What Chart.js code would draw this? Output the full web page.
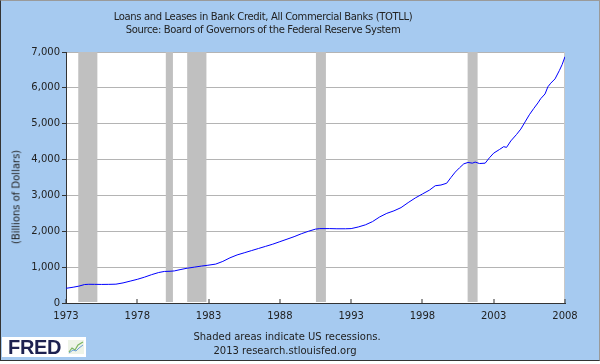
<!DOCTYPE html>
<html>
<head>
<meta charset="utf-8">
<script src="https://cdn.jsdelivr.net/npm/chart.js@4/dist/chart.umd.min.js"></script>
<style>
  html, body { margin: 0; padding: 0; background: #fff; }
  #wrap { position: relative; width: 600px; height: 364px; overflow: hidden; }
  #frame { position: absolute; left: 0; top: 0; width: 598px; height: 359px; background: #A6CAF0;
           border: 1px solid; border-color: #9a9a9a #9a9a9a #333 #333; }
  canvas { position: absolute; left: 0; top: 0; }
  .txt { position: absolute; font-family: "DejaVu Sans", Verdana, sans-serif; font-size: 10px; color: #222;
         white-space: nowrap; transform: translate(-50%, -50%); }
  .titolo { letter-spacing: -0.35px; }
  #ytitle { transform: translate(-50%, -50%) rotate(-90deg); }
  #logo { position: absolute; left: 2px; top: 337px; width: 84px; height: 20px; background: #fff; }
  #logo span { position: absolute; left: 6px; top: 0px; font-family: "Liberation Sans", Arial, sans-serif;
               font-weight: bold; font-size: 20px; line-height: 20px; color: #1d2150; letter-spacing: -0.3px; }
  #logo svg { position: absolute; left: 66px; top: 3px; }
</style>
</head>
<body>
<div id="wrap">
  <div id="frame"></div>
  <canvas id="grafico" width="600" height="364"></canvas>
  <div class="txt titolo" style="left:263px; top:16px;">Loans and Leases in Bank Credit, All Commercial Banks (TOTLL)</div>
  <div class="txt titolo" style="left:263px; top:29px;">Source: Board of Governors of the Federal Reserve System</div>
  <div class="txt" id="ytitle" style="left:16px; top:197px;">(Billions of Dollars)</div>
  <div class="txt" style="left:287px; top:336px;">Shaded areas indicate US recessions.</div>
  <div class="txt" style="left:285px; top:350px;">2013 research.stlouisfed.org</div>
  <div id="logo"><span>FRED</span>
    <svg width="16" height="14" viewBox="0 0 16 14">
      <rect x="0" y="0" width="16" height="14" fill="#eef4e8"/>
      <polyline points="1,12 4,8 7,10 10,5 15,2" fill="none" stroke="#7bb661" stroke-width="1.2"/>
      <polyline points="1,13 5,10 8,11 11,8 15,5" fill="none" stroke="#6a9fd8" stroke-width="1"/>
    </svg>
  </div>
</div>
<script>
// Dati (anni decimali, miliardi di dollari)
const anni = [1973.0, 1973.5, 1973.9, 1974.3, 1974.6, 1975.0, 1975.5, 1976.0, 1976.5, 1977.0,
  1977.5, 1978.0, 1978.5, 1979.0, 1979.5, 1979.9, 1980.3, 1980.6, 1981.0, 1981.5,
  1982.0, 1982.5, 1982.9, 1983.5, 1984.0, 1984.5, 1985.0, 1985.5, 1986.0, 1986.5,
  1987.0, 1987.5, 1988.0, 1988.5, 1989.0, 1989.5, 1990.0, 1990.5, 1990.8, 1991.5,
  1992.0, 1992.6, 1993.0, 1993.5, 1994.0, 1994.5, 1995.0, 1995.5, 1996.0, 1996.5,
  1997.0, 1997.5, 1998.0, 1998.5, 1998.9, 1999.3, 1999.7, 2000.0, 2000.3, 2000.6,
  2000.9, 2001.2, 2001.5, 2001.7, 2002.0, 2002.4, 2002.7, 2003.0, 2003.4, 2003.7,
  2003.9, 2004.2, 2004.6, 2004.9, 2005.2, 2005.5, 2005.8, 2006.1, 2006.3, 2006.6,
  2006.8, 2007.0, 2007.3, 2007.6, 2007.8, 2008.0];
const prestiti = [410, 440, 470, 515, 522, 520, 518, 520, 525, 560,
  610, 660, 720, 790, 850, 880, 885, 895, 930, 970,
  1000, 1030, 1050, 1085, 1160, 1260, 1340, 1400, 1460, 1520,
  1580, 1640, 1710, 1780, 1850, 1930, 2000, 2060, 2075, 2075,
  2070, 2070, 2075, 2120, 2180, 2270, 2400, 2500, 2570, 2660,
  2800, 2930, 3040, 3150, 3270, 3290, 3340, 3500, 3650, 3770,
  3880, 3920, 3900, 3930, 3890, 3900, 4050, 4180, 4280, 4360,
  4340, 4520, 4700, 4850, 5050, 5250, 5420, 5580, 5700, 5830,
  6030, 6130, 6250, 6480, 6650, 6870];

// Recessioni (inizio, fine)
const recessioniInizio = [1973.86, 1980.0, 1981.5, 1990.53, 2001.17];
const recessioniFine = [1975.2, 1980.5, 1982.85, 1991.23, 2001.87];

const tickAnni = [1973, 1978, 1983, 1988, 1993, 1998, 2003, 2008];

// Plugin: sfondo bianco, bande di recessione, tacche interne sull'asse x
const sfondoRecessioni = {
  id: 'sfondoRecessioni',
  beforeDraw(chart) {
    const { ctx, chartArea: a } = chart;
    ctx.save();
    ctx.fillStyle = '#ffffff';
    ctx.fillRect(a.left, a.top, a.right - a.left, a.bottom - a.top);
    ctx.restore();
  },
  beforeDatasetsDraw(chart) {
    const { ctx, chartArea: a, scales } = chart;
    ctx.save();
    ctx.fillStyle = '#C0C0C0';
    for (let i = 0; i < recessioniInizio.length; i++) {
      const x0 = scales.x.getPixelForValue(recessioniInizio[i]);
      const x1 = scales.x.getPixelForValue(recessioniFine[i]);
      ctx.fillRect(x0, a.top, x1 - x0, a.bottom - a.top - 1);
    }
    // bordo destro
    ctx.fillStyle = '#c8c8c8';
    ctx.fillRect(a.right - 1, a.top, 1, a.bottom - a.top);
    // tacche verso l'interno
    ctx.fillStyle = '#333';
    tickAnni.forEach(v => {
      const x = Math.round(scales.x.getPixelForValue(v));
      ctx.fillRect(x - 0.5, a.bottom - 4, 1, 4);
    });
    ctx.restore();
  }
};

const ctx = document.getElementById('grafico').getContext('2d');
new Chart(ctx, {
  type: 'line',
  data: {
    datasets: [{
      data: anni.map((a, i) => ({ x: a, y: prestiti[i] })),
      borderColor: '#0000FF',
      borderWidth: 1,
      pointRadius: 0,
      tension: 0,
      fill: false
    }]
  },
  options: {
    responsive: false,
    animation: false,
    layout: { padding: { left: 0, top: 52, right: 35, bottom: 31 } },
    plugins: { legend: { display: false }, tooltip: { enabled: false } },
    scales: {
      x: {
        type: 'linear',
        min: 1973,
        max: 2008,
        afterBuildTicks: s => { s.ticks = tickAnni.map(v => ({ value: v })); },
        afterFit: s => { s.height = 30; s.paddingLeft = 0; s.paddingRight = 0; },
        grid: { drawOnChartArea: false, drawTicks: false },
        border: { color: '#333', width: 1 },
        ticks: {
          padding: 7,
          maxRotation: 0,
          autoSkip: false,
          color: '#222',
          font: { family: 'DejaVu Sans', size: 10 },
          callback: v => String(v)
        }
      },
      y: {
        min: 0,
        max: 7000,
        afterFit: s => { s.width = 66; s.paddingTop = 0; s.paddingBottom = 0; },
        grid: { color: '#B4B4B4', tickColor: '#333', tickLength: 4 },
        border: { color: '#333', width: 1 },
        ticks: {
          stepSize: 1000,
          padding: 2,
          color: '#222',
          font: { family: 'DejaVu Sans', size: 10 }
        }
      }
    }
  },
  plugins: [sfondoRecessioni]
});
</script>
</body>
</html>
